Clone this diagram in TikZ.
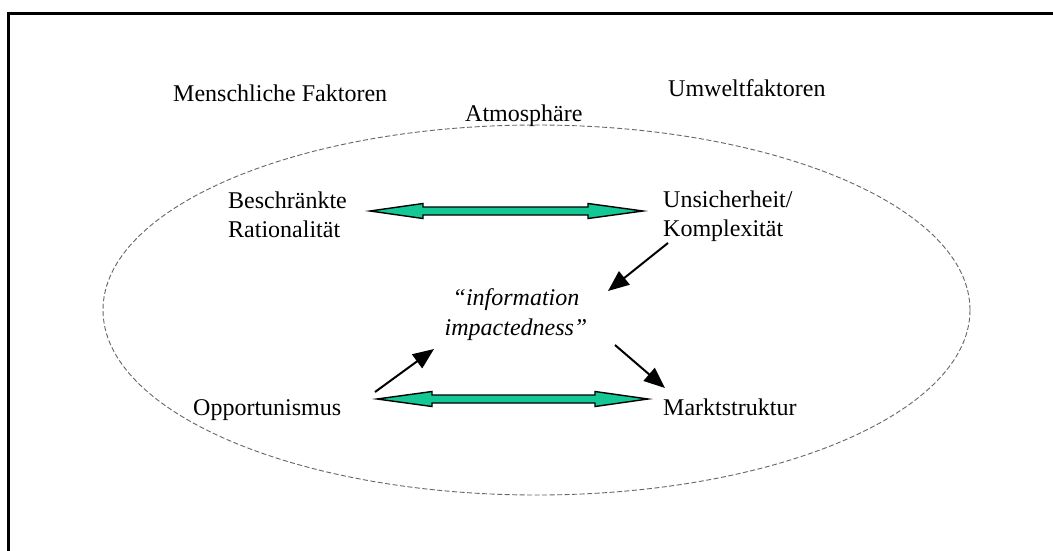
\documentclass[tikz,border=0pt]{standalone}
\usepackage{fontspec}
\setmainfont{Liberation Serif}
\usetikzlibrary{arrows.meta,calc,shapes.geometric}
\definecolor{arrgreen}{RGB}{20,200,150}
\tikzset{
  lbl/.style={anchor=base west,inner sep=0pt,font=\fontsize{24}{29}\selectfont,align=left},
  blk/.style={line width=2pt,-{Triangle[length=21pt,width=17pt]}},
  dbl/.style={draw=black,line width=1.4pt,fill=arrgreen,line join=miter},
  atmo/.style={draw=black!60,line width=0.9pt,dash pattern=on 5pt off 2.5pt}
}
\begin{document}
\begin{tikzpicture}[x=1pt,y=-1pt]
\useasboundingbox (0,0) rectangle (1053,550);
\fill[white] (0,0) rectangle (1053,550);
% frame (clipped at right and bottom)
\draw[line width=3pt] (8,570) -- (8,13) -- (1070,13);
% atmosphere ellipse
\node[atmo,ellipse,minimum width=867pt,minimum height=370pt,inner sep=0pt] (ell) at (536.5,310) {};
% labels
\node[lbl] (mf) at (173,101) {Menschliche Faktoren};
\node[lbl] (uf) at (668,96) {Umweltfaktoren};
\node[lbl] (at) at (465,121) {Atmosphäre};
\node[lbl,anchor=north west] (br) at (228,192) {Beschränkte\\Rationalität};
\node[lbl,anchor=north west] (uk) at (663,191) {Unsicherheit/\\Komplexität};
\node[lbl,anchor=north,align=center,font=\fontsize{24}{30}\selectfont\itshape] (ii) at (516,288) {“information\\impactedness”};
\node[lbl] (op) at (193,415) {Opportunismus};
\node[lbl] (ms) at (663,415) {Marktstruktur};
% double arrows
\coordinate (a1) at (370,211);
\coordinate (a2) at (643,211);
\draw[dbl] (a1) -- ($(a1)+(53,-7.5)$) -- ($(a1)+(53,-4)$) -- ($(a2)+(-55,-4)$) -- ($(a2)+(-55,-7.5)$) -- (a2)
  -- ($(a2)+(-55,7.5)$) -- ($(a2)+(-55,4)$) -- ($(a1)+(53,4)$) -- ($(a1)+(53,7.5)$) -- cycle;
\coordinate (b1) at (377,399);
\coordinate (b2) at (648,399);
\draw[dbl] (b1) -- ($(b1)+(55,-7.5)$) -- ($(b1)+(55,-4)$) -- ($(b2)+(-53,-4)$) -- ($(b2)+(-53,-7.5)$) -- (b2)
  -- ($(b2)+(-53,7.5)$) -- ($(b2)+(-53,4)$) -- ($(b1)+(55,4)$) -- ($(b1)+(55,7.5)$) -- cycle;
% black arrows
\coordinate (c1s) at (668,243);
\coordinate (c1e) at (608,291);
\draw[blk] (c1s) -- (c1e);
\coordinate (c2s) at (375,392);
\coordinate (c2e) at (434,349);
\draw[blk] (c2s) -- (c2e);
\coordinate (c3s) at (615,345);
\coordinate (c3e) at (665,388);
\draw[blk] (c3s) -- (c3e);
\end{tikzpicture}
\end{document}
